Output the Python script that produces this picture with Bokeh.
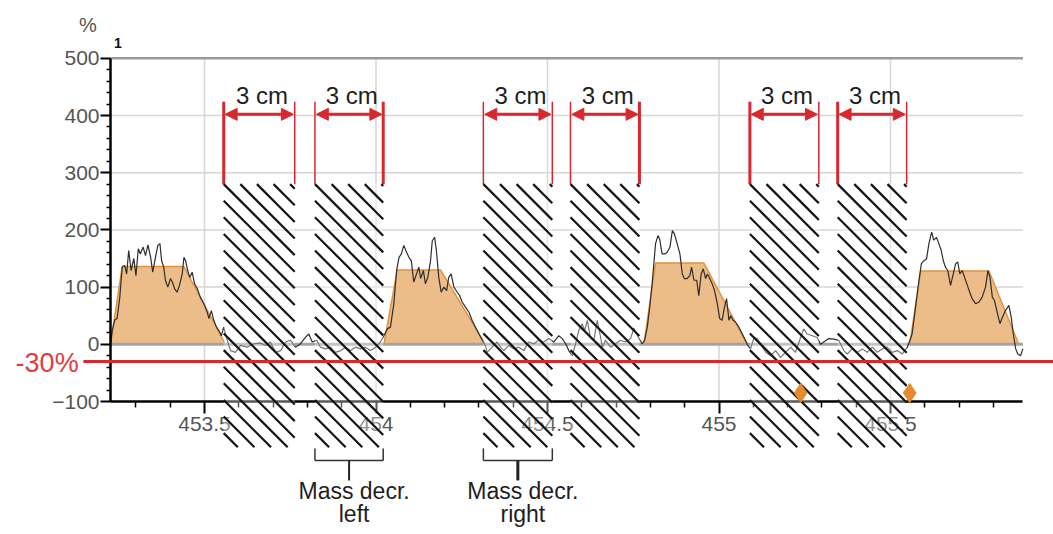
from bokeh.plotting import figure
from bokeh.models import LinearAxis, FixedTicker, Label, Arrow, NormalHead, ColumnDataSource
from bokeh.embed import file_html
from bokeh.resources import INLINE
from bokeh.core.properties import value

# ---------------- data ----------------
x_ticks = [453.5, 454.0, 454.5, 455.0, 455.5]
x_tick_labels = ["453.5", "454", "454.5", "455", "455.5"]
x_minor = [453.3, 453.4, 453.6, 453.7, 453.8, 453.9, 454.1, 454.2, 454.3, 454.4,
           454.6, 454.7, 454.8, 454.9, 455.1, 455.2, 455.3, 455.4, 455.6, 455.7, 455.8]
y_ticks = [-100, 0, 100, 200, 300, 400, 500]
y_minor = [v for v in range(-100, 501, 20) if v % 100]

x_start, x_end = 453.226, 455.886
threshold = -30

# measured signal (%)
x_hump1 = [453.226, 453.231, 453.238, 453.245, 453.253, 453.260, 453.267, 453.273, 453.279, 453.286,
           453.294, 453.300, 453.307, 453.313, 453.321, 453.328, 453.335, 453.343, 453.349, 453.357,
           453.364, 453.370, 453.375, 453.381, 453.386, 453.393, 453.401, 453.406, 453.413, 453.420,
           453.427, 453.435, 453.440, 453.445, 453.451, 453.457, 453.464, 453.471, 453.479, 453.488,
           453.498, 453.508, 453.513, 453.520, 453.527, 453.535, 453.542, 453.549, 453.556, 453.564, 453.571]
y_hump1 = [0, 24, 42, 45, 82, 135, 138, 123, 164, 129,
           150, 120, 167, 158, 170, 155, 174, 152, 126, 152,
           173, 176, 146, 135, 112, 100, 115, 109, 97, 91,
           103, 123, 152, 146, 129, 117, 126, 106, 97, 82,
           71, 56, 45, 59, 42, 30, 24, 15, 30, 12, -2]
x_gap1 = [453.576, 453.590, 453.605, 453.624, 453.644, 453.663, 453.678, 453.692, 453.707, 453.722,
          453.736, 453.751, 453.765, 453.780, 453.794, 453.804, 453.814, 453.827, 453.838, 453.853,
          453.867, 453.882, 453.897, 453.911, 453.926, 453.940, 453.955, 453.969, 453.984, 453.999,
          454.013, 454.023, 454.033, 454.042]
y_gap1 = [-11, -14, -2, -5, 1, 2, -2, 4, -14, -11,
          4, 7, -5, 1, 12, 18, 4, 7, -5, -8,
          -5, -14, -11, -5, -11, -5, -8, -5, -11, -5,
          4, 15, 27, 30]
x_hump2 = [454.052, 454.060, 454.067, 454.074, 454.081, 454.089, 454.096, 454.103, 454.110, 454.118,
           454.125, 454.130, 454.138, 454.144, 454.151, 454.159, 454.164, 454.171, 454.176, 454.183,
           454.190, 454.198, 454.206, 454.212, 454.219, 454.227, 454.237, 454.244, 454.251, 454.261,
           454.271, 454.280, 454.290, 454.300, 454.310, 454.319]
y_hump2 = [71, 129, 152, 158, 173, 161, 152, 146, 109, 123,
           135, 115, 129, 106, 117, 146, 181, 187, 164, 117,
           91, 100, 94, 117, 123, 100, 91, 85, 74, 65,
           56, 42, 30, 18, 7, -2]
x_gap2 = [454.324, 454.334, 454.343, 454.353, 454.363, 454.373, 454.387, 454.402, 454.416, 454.431,
          454.445, 454.460, 454.475, 454.489, 454.504, 454.518, 454.533, 454.543, 454.553, 454.562,
          454.572, 454.582, 454.591, 454.601, 454.608, 454.616, 454.625, 454.635, 454.645, 454.653,
          454.660, 454.669, 454.684, 454.698, 454.713, 454.727, 454.742, 454.752, 454.762, 454.776,
          454.783, 454.791]
y_gap2 = [-14, -8, -2, 4, -5, -11, -2, -8, -5, -11,
          4, 1, 7, 4, 10, 4, 15, 10, 1, -11,
          -20, 1, 24, 36, 24, 42, 12, 7, 42, 18,
          -5, 7, -5, 1, 7, 4, 10, 28, 15, 1,
          7, 30]
x_hump3 = [454.798, 454.805, 454.810, 454.815, 454.822, 454.827, 454.834, 454.842, 454.849, 454.857,
           454.864, 454.870, 454.878, 454.886, 454.893, 454.899, 454.907, 454.915, 454.920, 454.927,
           454.935, 454.941, 454.948, 454.954, 454.961, 454.966, 454.973, 454.980, 454.987, 454.995,
           455.002, 455.009, 455.016, 455.022, 455.029, 455.034, 455.041, 455.048, 455.058, 455.068,
           455.077, 455.084]
y_hump3 = [65, 106, 141, 176, 190, 184, 158, 158, 161, 170,
           199, 193, 176, 158, 123, 115, 115, 120, 135, 112,
           112, 85, 123, 132, 115, 123, 115, 106, 94, 71,
           45, 42, 65, 80, 42, 50, 42, 39, 30, 18,
           7, -2]
x_gap3 = [455.092, 455.102, 455.111, 455.121, 455.136, 455.150, 455.165, 455.179, 455.194, 455.209,
          455.223, 455.238, 455.247, 455.257, 455.272, 455.286, 455.296, 455.320, 455.335, 455.349,
          455.364, 455.374, 455.388, 455.403, 455.418, 455.432, 455.447, 455.461, 455.476, 455.490,
          455.505, 455.520, 455.534, 455.549, 455.553]
y_gap3 = [-8, 12, 10, 1, -14, -20, -11, -23, -14, -5,
          -14, 12, 27, 18, 15, 12, 0, 10, 9, 7,
          -11, -17, -8, -14, -8, -14, -5, -14, -8, -5,
          -14, -11, -17, -5, 1]
x_hump4 = [455.563, 455.573, 455.583, 455.590, 455.597, 455.605, 455.612, 455.620, 455.626, 455.634,
           455.641, 455.648, 455.654, 455.660, 455.667, 455.675, 455.683, 455.690, 455.696, 455.702,
           455.709, 455.716, 455.724, 455.731, 455.738, 455.748, 455.758, 455.767, 455.777, 455.784,
           455.790, 455.797, 455.803, 455.811, 455.819, 455.826, 455.835, 455.845, 455.852, 455.858,
           455.865, 455.871, 455.879, 455.886]
y_hump4 = [18, 65, 112, 141, 146, 149, 176, 196, 182, 187,
           176, 164, 146, 135, 129, 103, 123, 141, 144, 123,
           129, 117, 103, 91, 80, 71, 74, 82, 100, 129,
           117, 82, 77, 56, 36, 47, 59, 68, 47, 18,
           -8, -17, -20, -8]

# fitted trapezoids (start, top start, top end, end, level)
trap_x0 = [453.226, 454.023, 454.781, 455.556]
trap_x1 = [453.260, 454.062, 454.815, 455.588]
trap_x2 = [453.440, 454.188, 454.956, 455.787]
trap_x3 = [453.561, 454.319, 455.082, 455.874]
trap_top = [136, 130, 142, 128]

# 3 cm zones
zone_left = [453.556, 453.822, 454.313, 454.567, 455.090, 455.346]
zone_right = [453.763, 454.021, 454.514, 454.768, 455.291, 455.547]
zone_text = ["3 cm"] * 6

# mass decrease markers
diamond_x = [455.238, 455.556]
diamond_y = [-85, -85]

bracket_zone = [1, 2]
bracket_line1 = ["Mass decr.", "Mass decr."]
bracket_line2 = ["left", "right"]

# ---------------- styling / layout ----------------
RED = "#D7282F"
FONT = "Liberation Sans"
dim_widths_left = [3, 1.5, 1.5, 1.5, 3, 3]
dim_widths_right = [1.5, 3, 1.5, 3, 1.5, 1.5]

W, H = 1053, 534
XR = (452.9052, 455.9752)
YR = (-332.5, 601.05)
px_x = W / (XR[1] - XR[0])
px_y = H / (YR[1] - YR[0])

p = figure(width=W, height=H, x_range=XR, y_range=YR,
           output_backend="svg", toolbar_location=None, x_axis_location=None,
           y_axis_location=None, min_border=0, outline_line_color=None, title=None)
p.grid.visible = False
p.background_fill_color = "white"

# grid lines
p.segment(x0=[x_start] * 4, x1=[x_end] * 4, y0=y_ticks[2:6], y1=y_ticks[2:6],
          line_color="#d6d6d6", line_width=1.5)
p.segment(x0=x_ticks, x1=x_ticks, y0=[-100] * 5, y1=[500] * 5,
          line_color="#d6d6d6", line_width=1.5)
p.segment(x0=[x_start], x1=[x_end], y0=[500], y1=[500], line_color="#9a9a9a", line_width=2.5)

# trapezoids
xs = [[a, b, c, d] for a, b, c, d in zip(trap_x0, trap_x1, trap_x2, trap_x3)]
ys = [[0, t, t, 0] for t in trap_top]
p.patches(xs, ys, fill_color="#ECBD88", fill_alpha=1, line_color="#E3913C", line_width=1.5)

# zero line
p.segment(x0=[x_start], x1=[x_end], y0=[0], y1=[0], line_color="#a3a3a3", line_width=3)

# signal
sig_x = x_hump1 + x_gap1 + x_hump2 + x_gap2 + x_hump3 + x_gap3 + x_hump4
sig_y = y_hump1 + y_gap1 + y_hump2 + y_gap2 + y_hump3 + y_gap3 + y_hump4
p.line(sig_x, sig_y, line_color="#2e2e2e", line_width=1.2)

# axes
xaxis = LinearAxis(fixed_location=-100, bounds=(x_start, x_end),
                   ticker=FixedTicker(ticks=x_ticks, minor_ticks=x_minor),
                   major_label_overrides={t: l for t, l in zip(x_ticks, x_tick_labels)})
yaxis = LinearAxis(fixed_location=x_start, bounds=(-100, 500),
                   ticker=FixedTicker(ticks=y_ticks, minor_ticks=y_minor))
for ax, mt, mn, so in ((xaxis, 12, 6, 3), (yaxis, 10, 4, 1)):
    ax.axis_line_color = "black"
    ax.axis_line_width = 2.5
    ax.major_tick_line_color = "black"
    ax.major_tick_line_width = 2
    ax.major_tick_out = mt
    ax.major_tick_in = 0
    ax.minor_tick_line_color = "black"
    ax.minor_tick_line_width = 1.5
    ax.minor_tick_out = mn
    ax.minor_tick_in = 0
    ax.major_label_text_font = FONT
    ax.major_label_text_font_size = "21px"
    ax.major_label_text_color = "#555555"
    ax.major_label_standoff = so
p.add_layout(xaxis, "below")
p.add_layout(yaxis, "left")

# hatched zones: translucent veil plus 45-degree hatch lines clipped to each zone
zone_top, zone_bottom = 280, -180
p.quad(left=zone_left, right=zone_right, top=[zone_top] * 6, bottom=[zone_bottom] * 6,
       fill_color="white", fill_alpha=0.35, line_color=None, level="overlay")
spacing = 16.6
hx0, hx1, hy0, hy1 = [], [], [], []
for l, r in zip(zone_left, zone_right):
    wpx = (r - l) * px_x
    hpx = (zone_top - zone_bottom) * px_y
    c = -hpx + (hpx % spacing)
    while c < wpx:
        t0 = max(0.0, -c)
        t1 = min(hpx, wpx - c)
        if t1 - t0 > 1:
            hx0.append(l + (c + t0) / px_x)
            hx1.append(l + (c + t1) / px_x)
            hy0.append(zone_top - t0 / px_y)
            hy1.append(zone_top - t1 / px_y)
        c += spacing
p.segment(x0=hx0, x1=hx1, y0=hy0, y1=hy1, line_color="#141414", line_width=2.2, level="overlay")

# threshold line and markers
p.segment(x0=[453.147], x1=[XR[1]], y0=[threshold], y1=[threshold],
          line_color=RED, line_width=3, level="overlay")
p.scatter(diamond_x, diamond_y, marker="diamond", size=19, color="#E8892B", level="overlay")

# dimension lines
dim_src = ColumnDataSource(dict(x=zone_left + zone_right,
                                w=dim_widths_left + dim_widths_right))
p.segment(x0="x", x1="x", y0=zone_top, y1=424, line_width="w", line_color=RED, source=dim_src)
for l, r in zip(zone_left, zone_right):
    p.add_layout(Arrow(x_start=l + 0.004, x_end=r - 0.004, y_start=402, y_end=402,
                       line_color=RED, line_width=3,
                       start=NormalHead(size=12, fill_color=RED, line_color=RED, line_width=1),
                       end=NormalHead(size=12, fill_color=RED, line_color=RED, line_width=1)))
p.text(x=[(l + r) / 2 + 0.008 for l, r in zip(zone_left, zone_right)], y=[435] * 6, text=zone_text,
       text_font=value(FONT), text_font_size="24px", text_align="center",
       text_baseline="middle", text_color="#1e1e1e")

# brackets
for i, zi in enumerate(bracket_zone):
    l, r = zone_left[zi], zone_right[zi]
    c = (l + r) / 2
    p.segment(x0=[l, r, l], x1=[l, r, r], y0=[-182, -182, -203], y1=[-203, -203, -203],
              line_color="#333333", line_width=1.5)
    p.segment(x0=[c], x1=[c], y0=[-203], y1=[-238], line_color="#222222",
              line_width=2 if i == 0 else 3)
    p.text(x=[c, c], y=[-257, -297], text=[bracket_line1[i], bracket_line2[i]],
           text_font=value(FONT), text_font_size="23px", text_align="center",
           text_baseline="middle", text_color="#1e1e1e", x_offset=5)

# labels
p.add_layout(Label(x=453.133, y=threshold, text="-30%", text_font=FONT, text_font_size="27px",
                   text_color="#E23B3E", text_align="right", text_baseline="middle", y_offset=-2))
p.add_layout(Label(x=453.160, y=558, text="%", text_font=FONT, text_font_size="20px",
                   text_color="#555555", text_align="center", text_baseline="middle"))
p.add_layout(Label(x=453.236, y=527, text="1", text_font=FONT, text_font_size="14px",
                   text_font_style="bold", text_color="#111111", text_align="left",
                   text_baseline="middle"))

open("out.html", "w").write(file_html(p, INLINE))
